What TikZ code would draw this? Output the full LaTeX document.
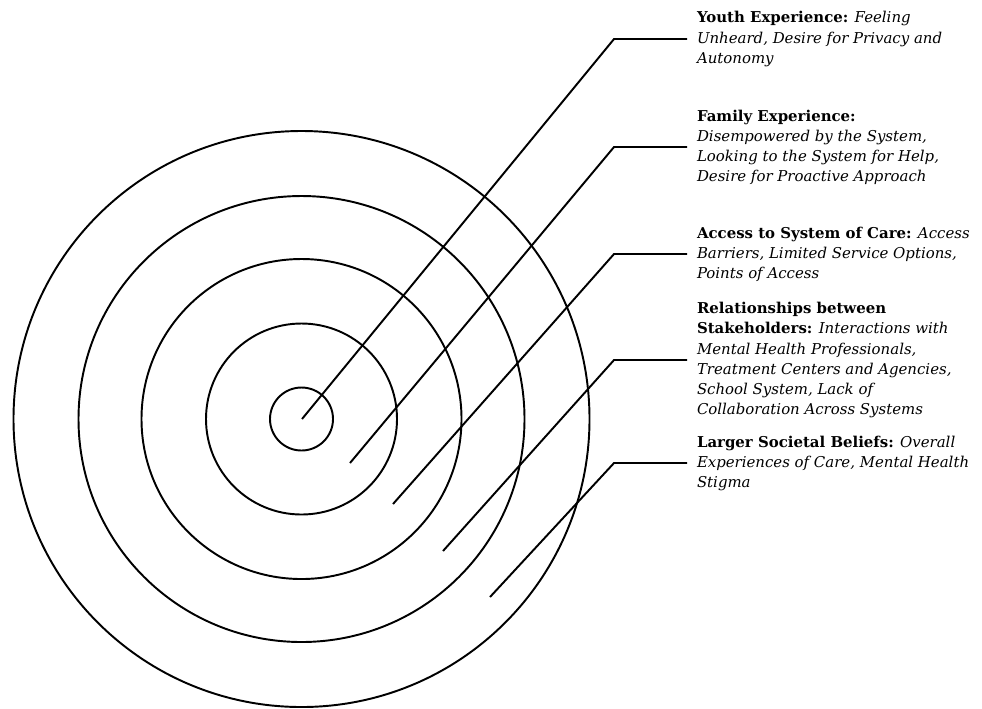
\documentclass[tikz,border=0pt]{standalone}
\usepackage{fontspec}
\usepackage{tikz}
\usetikzlibrary{positioning, calc}
\setmainfont{DejaVu Serif}
\newcommand{\hd}[1]{{\bfseries\upshape #1}}

\begin{document}
\begin{tikzpicture}[x=0.02cm, y=-0.02cm,
    ring/.style={draw=black, line width=1.1pt},
    leader/.style={draw=black, line width=1.1pt},
    note/.style={anchor=west, align=left, inner sep=0pt, outer sep=0.2cm,
                 font=\fontsize{8.5}{11.4}\selectfont\itshape}]
  % ── Canvas (982 × 708 px, y runs downward) ─────────────────────────────
  \useasboundingbox (0,0) rectangle (982,708);

  % ── Target rings round one centre ──────────────────────────────────────
  \coordinate (mid) at (301.5,419);
  \foreach \r in {31.5, 95.5, 160, 223, 288}{
    \draw[ring] (mid) circle (\r);
  }

  % ── Labels (each centred on its leader line) ───────────────────────────
  \node[note] (youth) at (687,39)
    {\hd{Youth Experience:} Feeling\\Unheard, Desire for Privacy and\\Autonomy};
  \node[note] (family) at (687,147)
    {\hd{Family Experience:}\\Disempowered by the System,\\Looking to the System for Help,\\Desire for Proactive Approach};
  \node[note] (access) at (687,254)
    {\hd{Access to System of Care:} Access\\Barriers, Limited Service Options,\\Points of Access};
  \node[note] (relations) at (687,360)
    {\hd{Relationships between}\\\hd{Stakeholders:} Interactions with\\Mental Health Professionals,\\Treatment Centers and Agencies,\\School System, Lack of\\Collaboration Across Systems};
  \node[note] (society) at (687,463)
    {\hd{Larger Societal Beliefs:} Overall\\Experiences of Care, Mental Health\\Stigma};

  % ── Leader lines: tip inside a ring, bend, then out to the label ───────
  \foreach \n/\sx/\sy in {youth/302/419, family/350/463, access/393/504,
                          relations/443/551, society/490/597}{
    \coordinate (\n-tip) at (\sx,\sy);
    \draw[leader] (\n-tip) -- ([xshift=-1.46cm]\n.west) -- (\n.west);
  }
\end{tikzpicture}
\end{document}
